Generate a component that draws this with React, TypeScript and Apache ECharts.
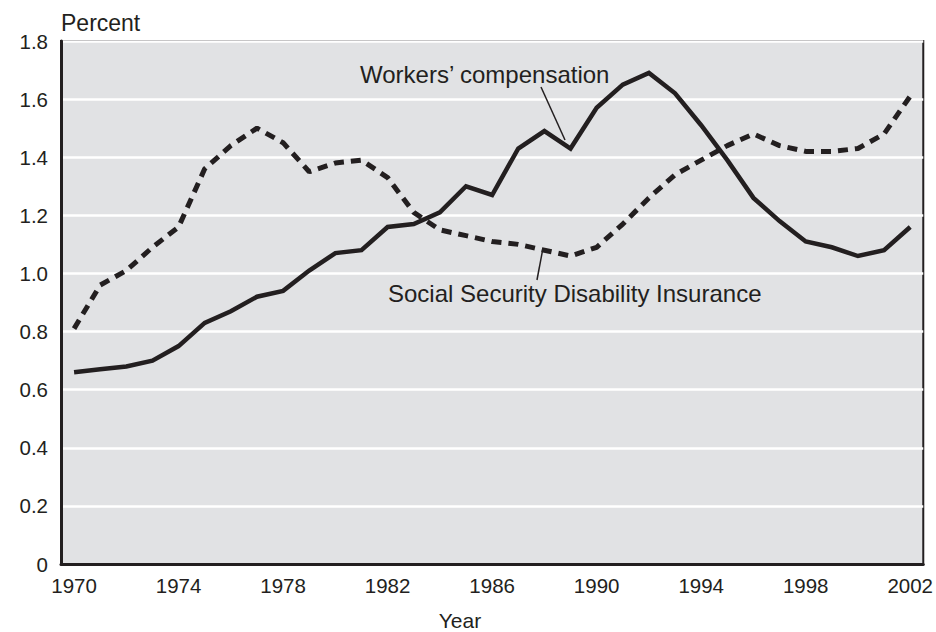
import React, { useEffect, useRef } from "react";
import * as echarts from "echarts";

const years: string[] = [];
for (let y = 1970; y <= 2002; y++) years.push(String(y));

const workersComp = [
  0.66, 0.67, 0.68, 0.70, 0.75, 0.83, 0.87, 0.92, 0.94, 1.01,
  1.07, 1.08, 1.16, 1.17, 1.21, 1.30, 1.27, 1.43, 1.49, 1.43,
  1.57, 1.65, 1.69, 1.62, 1.51, 1.39, 1.26, 1.18, 1.11, 1.09,
  1.06, 1.08, 1.16,
];

const ssdi = [
  0.81, 0.96, 1.01, 1.09, 1.16, 1.36, 1.44, 1.50, 1.45, 1.35,
  1.38, 1.39, 1.33, 1.21, 1.15, 1.13, 1.11, 1.10, 1.08, 1.06,
  1.09, 1.17, 1.26, 1.34, 1.39, 1.44, 1.48, 1.44, 1.42, 1.42,
  1.43, 1.48, 1.61,
];

const yTicks = [0, 0.2, 0.4, 0.6, 0.8, 1.0, 1.2, 1.4, 1.6, 1.8];

const FONT = "Liberation Sans, Arial, Helvetica, sans-serif";
const INK = "#231f20";

export default function App() {
  const ref = useRef<HTMLDivElement>(null);
  useEffect(() => {
    if (!ref.current) return;
    const chart = echarts.init(ref.current, undefined, { renderer: "svg" });
    chart.setOption({
      animation: false,
      backgroundColor: "#ffffff",
      textStyle: { fontFamily: FONT, color: INK },
      grid: {
        left: 61,
        top: 41,
        width: 863,
        height: 523,
        show: true,
        backgroundColor: "#e1e2e4",
        borderColor: INK,
        borderWidth: 2,
        containLabel: false,
      },
      xAxis: {
        type: "category",
        data: years,
        boundaryGap: true,
        axisLine: { show: true, lineStyle: { color: INK, width: 3 } },
        axisTick: { show: false },
        axisLabel: {
          interval: 3,
          margin: 11,
          fontSize: 20.5,
          fontFamily: FONT,
          color: INK,
        },
        splitLine: { show: false },
      },
      yAxis: {
        type: "value",
        min: yTicks[0],
        max: yTicks[yTicks.length - 1],
        interval: 0.2,
        axisLine: { show: true, lineStyle: { color: INK, width: 3 } },
        axisTick: { show: false },
        axisLabel: {
          margin: 13,
          fontSize: 20.5,
          fontFamily: FONT,
          color: INK,
          formatter: (v: number) => (v === 0 ? "0" : v.toFixed(1)),
        },
        splitLine: { show: true, lineStyle: { color: "#ffffff", width: 2.5 } },
      },
      series: [
        {
          name: "Workers’ compensation",
          type: "line",
          data: workersComp,
          symbol: "none",
          lineStyle: { color: INK, width: 4.5, join: "miter" },
          z: 3,
        },
        {
          name: "Social Security Disability Insurance",
          type: "line",
          data: ssdi,
          symbol: "none",
          lineStyle: { color: INK, width: 5, type: [10, 7] },
          z: 3,
        },
      ],
      graphic: [
        {
          type: "text",
          x: 61,
          y: 23,
          style: {
            text: "Percent",
            font: `23px ${FONT}`,
            fill: INK,
            verticalAlign: "middle",
          },
        },
        {
          type: "text",
          x: 460,
          y: 620,
          style: {
            text: "Year",
            font: `21px ${FONT}`,
            fill: INK,
            align: "center",
            verticalAlign: "middle",
          },
        },
        {
          type: "text",
          x: 360,
          y: 74,
          z: 10,
          style: {
            text: "Workers’ compensation",
            font: `24px ${FONT}`,
            fill: INK,
            verticalAlign: "middle",
          },
        },
        {
          type: "line",
          z: 10,
          shape: { x1: 541, y1: 87, x2: 565, y2: 140 },
          style: { stroke: INK, lineWidth: 1.5 },
        },
        {
          type: "text",
          x: 388,
          y: 293,
          z: 10,
          style: {
            text: "Social Security Disability Insurance",
            font: `24px ${FONT}`,
            fill: INK,
            verticalAlign: "middle",
          },
        },
        {
          type: "line",
          z: 10,
          shape: { x1: 537, y1: 280, x2: 543, y2: 248 },
          style: { stroke: INK, lineWidth: 1.5 },
        },
      ],
    });
    return () => chart.dispose();
  }, []);
  return (
    <div
      ref={ref}
      style={{ position: "fixed", left: 0, top: 0, width: 936, height: 632 }}
    />
  );
}
